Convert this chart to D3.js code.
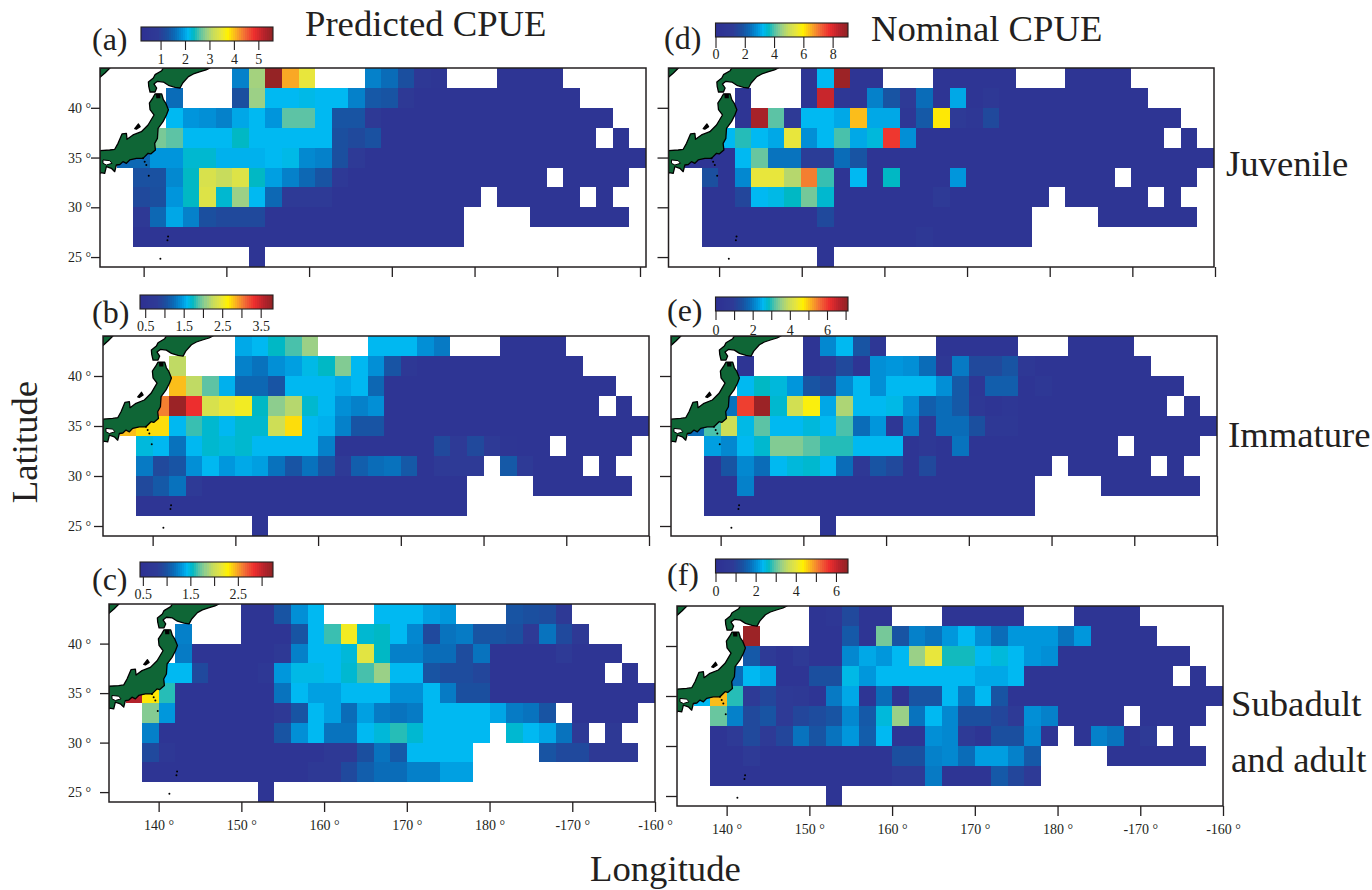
<!DOCTYPE html>
<html>
<head>
<meta charset="utf-8">
<script src="https://cdn.jsdelivr.net/npm/d3@7"></script>
<style>
  body { margin: 0; background: #fff; }
  text { font-family: "Liberation Serif", serif; fill: #231f20; }
</style>
</head>
<body>
<div id="chart"></div>
<script>
const _ = null;

// cell values, 33 columns of 2 deg from 134E, 10 rows of 2 deg from 44N down
const predictedJuvenile = [
  [_,_,_,_,_,_,_,_, 1.71,2.9,5.5,4.09,3.44, _,_,_, 1.71,1.55,1.23,.7,.55, _,_,_, .47,.47,.47,.47, _,_,_,_,_],
  [_,_,_,_, 1.55, _,_,_, 1.23,2.85,2.09,2.09,2.14,2.09,2.09,1.71,1.33,1.28,.74,.47,.47,.47,.47,.47,.47,.47,.47,.47,.47, _,_,_,_],
  [_,_,_,_, 2.09,1.87,1.82,1.71,1.98,2.09,1.87,2.58,2.58,2.09,1.28,1.28,.74,.47,.47,.47,.47,.47,.47,.47,.47,.47,.47,.47,.47,.47,.47, _,_],
  [_,_,_, 2.7,2.58,2.09,2.09,2.09,2.31,2.09,2.09,2.09,2.09,2.09,1.23,1.12,1.25,.47,.47,.47,.47,.47,.47,.47,.47,.47,.47,.47,.47,.47, _, .47, _],
  [_, 1.5,1.5,1.87,1.87,2.25,2.25,2.04,2.04,2.04,2.09,2.14,1.77,1.71,1.23,.85,.47,.47,.47,.47,.47,.47,.47,.47,.47,.47,.47,.47,.47,.47,.47,.47,.47],
  [_,_, 1.25,1.25,1.77,2.31,3.28,3.12,3.33,2.31,1.93,1.71,1.5,1.28,.8,.47,.47,.47,.47,.47,.47,.47,.47,.47,.47,.47,.47, _, .47,.47,.47,.47, _],
  [_,_, 1.12,1.23,1.87,2.31,3.33,2.25,2.85,2.09,1.5,.85,.85,.85,.47,.47,.47,.47,.47,.47,.47,.47,.47, _, .47,.47,.47,.47,.47, _, .47, _,_],
  [_,_, .74,1.5,1.98,1.71,1.23,1.12,1.12,1.12,.47,.47,.47,.47,.47,.47,.47,.47,.47,.47,.47,.47, _,_,_,_, .47,.47,.47,.47,.47,.47, _],
  [_,_, .47,.47,.47,.47,.47,.47,.47,.47,.47,.47,.47,.47,.47,.47,.47,.47,.47,.47,.47,.47, _,_,_,_,_,_,_,_,_,_,_],
  [_,_,_,_,_,_,_,_,_, .47, _,_,_,_,_,_,_,_,_,_,_,_,_,_,_,_,_,_,_,_,_,_,_]
];

const predictedImmature = [
  [_,_,_,_,_,_,_,_, 1.51,1.57,1.71,1.85,2.06, _,_,_, 1.57,1.57,1.57,1.4,1.3, _,_,_, .54,.54,.54,.54, _,_,_,_,_],
  [_,_,_,_, 2.2, _,_,_, 1.33,1.26,1.4,1.47,1.61,1.71,1.99,1.57,1.4,1.06,.71,.54,.54,.54,.54,.54,.54,.54,.54,.54,.54, _,_,_,_],
  [_,_,_,_, 2.78,2.2,1.89,1.54,1.19,1.19,1.06,1.57,1.57,1.57,1.51,1.57,1.19,.54,.54,.54,.54,.54,.54,.54,.54,.54,.54,.54,.54,.54,.54, _,_],
  [_,_,_, 2.99,3.72,3.3,2.33,2.44,2.51,1.71,2.02,2.16,1.68,1.57,1.4,1.33,1.4,.54,.54,.54,.54,.54,.54,.54,.54,.54,.54,.54,.54,.54, _, .54, _],
  [_, 2.78,2.68,2.68,1.57,1.82,1.68,1.57,1.68,1.68,2.27,2.68,1.57,1.54,1.33,1.06,1.06,.54,.54,.54,.54,.54,.54,.54,.54,.54,.54,.54,.54,.54,.54,.54,.54],
  [_,_, 1.64,1.57,1.26,1.57,1.68,1.64,1.68,1.57,1.57,1.57,1.57,1.33,.54,.54,.54,.54,.54,.54,.95,.78,.95,.78,.6,.54,.54, _, .54,.54,.54,.54, _],
  [_,_, 1.3,.95,1.06,1.4,1.57,1.44,1.51,1.47,1.26,1.06,1.26,1.06,.78,1.13,1.23,1.26,1.09,.54,.78,.78,.78, _, 1.09,.78,.54,.54,.54, _, .54, _,_],
  [_,_, .95,1.09,1.26,.78,.54,.54,.54,.54,.54,.54,.54,.54,.54,.54,.54,.54,.54,.54,.54,.54, _,_,_,_, .54,.54,.54,.54,.54,.54, _],
  [_,_, .54,.54,.54,.54,.54,.54,.54,.54,.54,.54,.54,.54,.54,.54,.54,.54,.54,.54,.54,.54, _,_,_,_,_,_,_,_,_,_,_],
  [_,_,_,_,_,_,_,_,_, .54, _,_,_,_,_,_,_,_,_,_,_,_,_,_,_,_,_,_,_,_,_,_,_]
];

const predictedAdult = [
  [_,_,_,_,_,_,_,_, .58,.58,1.0,1.28,1.42, _,_,_, 1.42,1.42,1.42,1.34,1.31, _,_,_, 1.0,.97,.94,.72, _,_,_,_,_],
  [_,_,_,_, 1.22, _,_,_, .58,.58,.58,1.0,1.42,1.62,2.18,1.5,1.53,1.42,1.25,.92,1.17,1.2,1.0,1.0,.97,.78,1.17,.92,.72, _,_,_,_],
  [_,_,_,_, 1.2,.58,.58,.58,.58,.58,.72,1.22,1.42,1.42,1.48,2.09,1.53,1.22,1.22,1.14,1.14,.94,1.17,.58,.58,.58,.58,.78,.58,.58,.58, _,_],
  [_,_,_, 1.42,1.42,.92,.58,.58,.58,.69,1.31,1.45,1.45,1.42,1.5,1.64,1.81,1.42,1.42,1.0,.94,.94,.89,.58,.58,.58,.58,.58,.58,.58, _, .58, _],
  [_, 3.04,2.29,1.59,.58,.58,.58,.58,.58,.58,1.17,1.42,1.34,1.34,1.42,1.42,1.42,1.28,1.28,1.42,1.2,.97,.97,.58,.58,.58,.58,.58,.58,.58,.58,.58,.58],
  [_,_, 1.76,1.31,.58,.58,.58,.58,.58,.58,.72,1.0,1.42,1.34,1.14,1.34,1.2,1.17,1.2,1.42,1.42,1.42,1.42,1.36,1.2,1.17,1.0, _, .58,.58,.58,.58, _],
  [_,_, 1.22,.58,.58,.58,.58,.58,.58,.58,1.0,1.28,1.42,1.17,1.17,1.42,1.48,1.59,1.5,1.42,1.42,1.42,1.42, _, 1.5,1.42,1.36,1.17,.78, _, .72, _,_],
  [_,_, .92,.69,.58,.58,.58,.58,.58,.58,.58,.58,.58,.72,.72,.97,1.17,1.03,1.42,1.42,1.42,1.42, _,_,_,_, 1.0,.92,.92,.72,.72,.72, _],
  [_,_, .58,.58,.58,.58,.58,.58,.58,.58,.58,.58,.72,.72,.92,1.06,1.14,1.14,1.22,1.22,1.34,1.34, _,_,_,_,_,_,_,_,_,_,_],
  [_,_,_,_,_,_,_,_,_, .58, _,_,_,_,_,_,_,_,_,_,_,_,_,_,_,_,_,_,_,_,_,_,_]
];

const nominalJuvenile = [
  [_,_,_,_,_,_,_,_, .45,3.17,8.78,.45,.45, _,_,_, .45,.45,.45,.45,.45, _,_,_, .45,.45,.45,.45, _,_,_,_,_],
  [_,_,_,_, .45, _,_,_, .45,8.15,.72,.45,2.53,1.81,1.09,2.26,.45,2.99,.45,.9,.45,.45,.45,.45,.45,.45,.45,.45,.45, _,_,_,_],
  [_,_,_,_, .45,8.6,3.98,1.09,3.17,3.17,2.99,6.34,2.99,2.99,.72,1.9,5.97,1.09,.72,1.54,.45,.45,.45,.45,.45,.45,.45,.45,.45,.45,.45, _,_],
  [_,_,_, 3.17,3.71,3.17,2.99,5.43,2.72,3.17,3.89,2.99,3.35,7.6,2.72,.45,.45,.45,.45,.45,.45,.45,.45,.45,.45,.45,.45,.45,.45,.45, _, .45, _],
  [_, .45,.45,.45,3.17,4.07,2.35,2.35,1.18,1.18,2.26,1.81,.45,.45,.45,.45,.45,.45,.45,.45,.45,.45,.45,.45,.45,.45,.45,.45,.45,.45,.45,.45,.45],
  [_,_, 1.72,.45,2.62,5.43,5.43,4.71,6.88,3.8,.45,3.17,.45,3.53,.45,.45,.45,2.81,.45,.45,.45,.45,.45,.45,.45,.45,.45, _, .45,.45,.45,.45, _],
  [_,_, .45,.45,1.45,3.17,3.26,3.53,4.16,3.44,.45,.45,.45,.45,.45,.45,1.09,.45,.45,.45,.45,.45,.45, _, .45,.45,.45,.45,.45, _, .45, _,_],
  [_,_, .45,.45,.45,.45,.45,.45,.45,1.54,.45,.45,.45,.45,.45,.45,.45,.45,.45,.45,.45,.45, _,_,_,_, .45,.45,.45,.45,.45,.45, _],
  [_,_, .45,.45,.45,.45,.45,.45,.45,.45,.45,.45,.45,.45,.45,.9,.45,.45,.45,.45,.45,.45, _,_,_,_,_,_,_,_,_,_,_],
  [_,_,_,_,_,_,_,_,_, .45, _,_,_,_,_,_,_,_,_,_,_,_,_,_,_,_,_,_,_,_,_,_,_]
];

const nominalImmature = [
  [_,_,_,_,_,_,_,_, .36,2.07,2.5,1.43,.57, _,_,_, .36,.36,.36,.36,.36, _,_,_, .36,.36,.36,.36, _,_,_,_,_],
  [_,_,_,_, .36, _,_,_, .36,.71,1.21,.36,2.14,2.21,2.14,1.78,.71,1.93,1.21,1.21,1.43,.71,.36,.36,.36,.36,.36,.36,.36, _,_,_,_],
  [_,_,_,_, 2.5,2.78,2.64,2.21,1.43,1.21,2.07,2.5,2.14,2.5,2.5,2.5,2.14,1.5,.57,1.57,1.57,.36,.71,.36,.36,.36,.36,.36,.36,.36,.36, _,_],
  [_,_,_, 1.85,5.92,6.92,2.71,3.99,4.56,2.35,3.64,2.5,2.5,2.57,2.14,1.57,1.78,1.5,.71,.36,.57,.36,.36,.36,.36,.36,.36,.36,.36,.36, _, .36, _],
  [_, 1.78,3.07,3.92,2.57,3.14,2.5,2.5,2.64,2.5,3.07,1.78,2.21,.57,1.93,.64,1.78,1.78,1.35,.71,.71,.36,.36,.36,.36,.36,.36,.36,.36,.36,.36,.36,.36],
  [_,_, 2.28,2.07,2.5,2.71,3.35,3.35,3.14,2.92,2.92,2.5,2.5,2.5,.36,.71,.36,1.85,.36,.36,.36,.36,.36,.36,.36,.36,.36, _, .36,.36,.36,.36, _],
  [_,_, .36,1.43,2.07,1.78,2.5,2.64,2.71,2.5,1.78,.71,1.43,1.21,.36,1.21,.36,.36,.36,.36,.36,.36,.36, _, .36,.36,.36,.36,.36, _, .36, _,_],
  [_,_, .36,.36,2.0,.36,.36,.36,.36,.36,.36,.36,.36,.36,.36,.36,.36,.36,.36,.36,.36,.36, _,_,_,_, .36,.36,.36,.36,.36,.36, _],
  [_,_, .36,.36,.36,.36,.36,.36,.36,.36,.36,.36,.36,.36,.36,.36,.36,.36,.36,.36,.36,.36, _,_,_,_,_,_,_,_,_,_,_],
  [_,_,_,_,_,_,_,_,_, .36, _,_,_,_,_,_,_,_,_,_,_,_,_,_,_,_,_,_,_,_,_,_,_]
];

const nominalAdult = [
  [_,_,_,_,_,_,_,_, .33,.53,1.12,.33,.33, _,_,_, .33,.33,.33,.33,.33, _,_,_, .33,.33,.33,.33, _,_,_,_,_],
  [_,_,_,_, 6.4, _,_,_, .33,.33,1.39,.33,3.04,1.32,1.85,1.72,2.05,2.31,1.98,1.65,2.05,2.05,2.05,1.72,2.05,.33,.33,.33,.33, _,_,_,_],
  [_,_,_,_, 1.39,.79,.33,.79,.33,.33,1.91,2.18,2.05,2.31,3.23,3.96,2.64,2.64,2.31,2.44,2.31,2.05,1.98,.33,.33,.33,.33,.33,.33,.33,.33, _,_],
  [_,_,_, 1.65,2.31,2.18,.33,.33,1.25,1.25,2.38,2.05,2.31,2.31,2.31,2.31,2.31,2.31,2.18,2.18,2.31,.33,.33,.33,.33,.33,.33,.33,.33,.33, _, .33, _],
  [_, 2.31,4.62,2.71,.79,1.06,.79,.66,.33,1.78,2.18,.33,1.65,.33,1.32,1.32,2.31,1.78,2.31,1.32,.33,.33,.33,.33,.33,.33,.33,.33,.33,.33,.33,.33,.33],
  [_,_, 2.97,1.85,1.12,1.32,.79,1.06,1.19,1.32,1.91,1.39,2.44,3.23,1.72,2.31,1.91,1.25,1.25,1.06,.79,1.98,1.85,.33,.33,.33,.33, _, .33,.33,.33,.33, _],
  [_,_, .33,.79,1.12,.79,1.06,1.72,1.32,1.72,2.05,1.45,2.31,.33,.33,1.98,1.91,.79,.33,1.25,1.25,1.91,.33, _, .33,1.85,1.72,.33,.79, _, .33, _,_],
  [_,_, .33,.33,.79,.33,.33,.33,.33,.33,.33,.33,.33,1.25,1.25,1.85,1.91,1.65,2.11,2.11,1.85,1.39, _,_,_,_, .33,.33,.33,.33,.33,.33, _],
  [_,_, .33,.33,.33,.33,.33,.33,.33,.33,.33,.33,.33,.79,.79,1.78,.33,.33,.33,1.39,1.06,.79, _,_,_,_,_,_,_,_,_,_,_],
  [_,_,_,_,_,_,_,_,_, .33, _,_,_,_,_,_,_,_,_,_,_,_,_,_,_,_,_,_,_,_,_,_,_]
];

// colour ramp shared by all panels, position along the bar -> colour
const rampStops = [0, .12, .19, .25, .31, .35, .39, .44, .49, .54, .6, .65, .72, .78, .85, .93, 1];
const rampColors = ["#2e3192", "#2e3a96", "#1b4f9f", "#0a6cb8", "#0096dc", "#00b9f2", "#00b8c4", "#5cc3a5", "#9bd087",
  "#c8dc5c", "#e8e63c", "#fff200", "#f9a825", "#f26a36", "#ed2e2e", "#b2222b", "#8b2323"];

const lonTicks = [140, 150, 160, 170, 180, 190, 200];
const lonLabels = ["140 °", "150 °", "160 °", "170 °", "180 °", "-170 °", "-160 °"];
const latTicks = [25, 30, 35, 40];
const latLabels = ["25 °", "30 °", "35 °", "40 °"];

// coastlines, lon/lat
const honshu = [[134,35.69],[135.17,35.76],[135.78,35.83],[136.18,36.43],[136.66,37.37],[137.19,37.43],[137.27,36.83],[137.99,37.27],
  [139,37.6],[139.81,38.27],[140.53,39.28],[140.05,39.81],[139.97,40.48],[140.37,40.98],[140.65,41.39],[141.46,41.39],[141.66,40.82],
  [141.94,40.48],[142.27,39.81],[142.03,39.28],[141.62,38.61],[141.02,37.94],[140.94,36.93],[140.61,36.43],[140.7,35.76],[140.13,35.36],
  [139.81,35.43],[139.2,34.92],[138.4,34.92],[137.59,34.76],[137.19,34.42],[136.78,34.59],[136.4,34.3],[135.98,34.25],[135.78,33.58],
  [135.37,33.92],[134.77,34.09],[134.57,33.41],[134.08,33.48],[134,33.4]];
const hokkaido = [[141.66,44],[147.3,44],[146.82,43.8],[146.02,43.6],[145.29,43.4],[144.69,43.13],[144,42.49],[143.68,41.99],[143.07,42.06],
  [142.27,42.26],[141.66,42.59],[140.94,42.66],[140.53,42.39],[140.85,41.99],[140.65,41.59],[140.05,41.59],[139.89,42.16],[139.85,42.59],
  [140.45,42.99],[140.65,43.33],[141.46,43.73]];
const mainland = [[134,44],[135.2,44],[134.6,43.5],[134,43.06]];
const sado = [[138.2,37.9],[138.65,38.37],[138.85,38.1],[138.4,37.85]];
const inlandSea = [[134.36,34.76],[135.17,34.69],[135.45,34.42],[134.77,34.25],[134.36,34.42]];
const mutsuBay = [[140.75,41.4],[141.3,41.4],[141.3,40.95],[140.8,40.95]];
const islands = [[139.2,34.92],[139.4,34.59],[139.6,34.25],[139.89,33.18],[142.23,27.07],[142.15,26.7],[141.3,24.83]];

const panels = [
  {name: "(a)", cells: predictedJuvenile, min: .2, max: 5.6, barTicks: [1,2,3,4,5], barLabels: [1,2,3,4,5], fmt: "d",
    x0: 100, x1: 646, y0: 68, y1: 267, tickShift: -6, showLat: true, showLon: false, tickLen: 9,
    bar: [141,273,27,41,9,59], nameAt: [92,50]},
  {name: "(b)", cells: predictedImmature, min: .365, max: 3.82, barTicks: [.5,1,1.5,2,2.5,3,3.5], barLabels: [.5,1.5,2.5,3.5], fmt: ".1f",
    x0: 103, x1: 649, y0: 336, y1: 536, tickShift: 0, showLat: true, showLon: false, tickLen: 9,
    bar: [140,273,295,309,9,326], nameAt: [92,323]},
  {name: "(c)", cells: predictedAdult, min: .44, max: 3.24, barTicks: [.5,1,1.5,2,2.5,3], barLabels: [.5,1.5,2.5], fmt: ".1f",
    x0: 109, x1: 655, y0: 604, y1: 802, tickShift: 0, showLat: true, showLon: true, tickLen: 9,
    bar: [140,273,562,577,9,594], nameAt: [92,590]},
  {name: "(d)", cells: nominalJuvenile, min: 0, max: 9.05, barTicks: [0,2,4,6,8], barLabels: [0,2,4,6,8], fmt: "d",
    x0: 668.5, x1: 1214, y0: 68, y1: 267, tickShift: 1, showLat: false, showLon: false, tickLen: 11,
    bar: [715.5,848,23,37,11,54], nameAt: [664,49]},
  {name: "(e)", cells: nominalImmature, min: 0, max: 7.13, barTicks: [0,1,2,3,4,5,6,7], barLabels: [0,2,4,6], fmt: "d",
    x0: 671, x1: 1217, y0: 336, y1: 536, tickShift: 0, showLat: false, showLon: false, tickLen: 11,
    bar: [715.5,848,297,311,9,330], nameAt: [667,321]},
  {name: "(f)", cells: nominalAdult, min: 0, max: 6.6, barTicks: [0,1,2,3,4,5,6], barLabels: [0,2,4,6], fmt: "d",
    x0: 677, x1: 1223, y0: 606, y1: 806, tickShift: 0, showLat: false, showLon: true, tickLen: 11,
    bar: [715.5,848,559,573,9,591], nameAt: [667,585]}
];

const svg = d3.select("#chart").append("svg")
  .attr("width", 1372)
  .attr("height", 890);

const ramp = d3.scaleLinear().domain(rampStops).range(rampColors);
const ink = "#231f20";

function drawPanel(p, idx) {
  let x = d3.scaleLinear().domain([134, 200]).range([p.x0, p.x1]);
  let y = d3.scaleLinear().domain([24, 44]).range([p.y1, p.y0]);
  let position = d3.scaleLinear().domain([p.min, p.max]).range([0, 1]);

  let flat = [];
  p.cells.forEach(function(row, r) {
    row.forEach(function(v, c) {
      if (v !== null) flat.push({lon: 134 + 2 * c, lat: 44 - 2 * r, v: v});
    });
  });

  let g = svg.append("g");
  let clipId = "frame" + idx;
  g.append("clipPath").attr("id", clipId).append("rect")
    .attr("x", p.x0).attr("y", p.y0)
    .attr("width", p.x1 - p.x0).attr("height", p.y1 - p.y0);

  g.selectAll("rect.cell").data(flat).enter().append("rect")
    .attr("class", "cell")
    .attr("x", function(d) { return x(d.lon); })
    .attr("y", function(d) { return y(d.lat); })
    .attr("width", function(d) { return x(d.lon + 2) - x(d.lon); })
    .attr("height", function(d) { return y(d.lat - 2) - y(d.lat); })
    .attr("shape-rendering", "crispEdges")
    .attr("fill", function(d) { return ramp(position(d.v)); });

  // land on top of the cells
  let coast = d3.line().x(function(d) { return x(d[0]); }).y(function(d) { return y(d[1]); });
  let land = g.append("g").attr("clip-path", `url(#${clipId})`);
  [mainland, hokkaido, honshu, sado].forEach(function(shape) {
    land.append("path")
      .attr("d", coast(shape) + "Z")
      .attr("fill", shape === sado ? "#000" : "#0f6636")
      .attr("stroke", "#000")
      .attr("stroke-width", 1.3)
      .attr("stroke-linejoin", "round");
  });
  land.append("path")
    .attr("d", coast(inlandSea) + "Z")
    .attr("fill", "#fff")
    .attr("stroke", "#000")
    .attr("stroke-width", 1);
  land.append("path")
    .attr("d", coast(mutsuBay) + "Z")
    .attr("fill", "#000");
  land.selectAll("circle").data(islands).enter().append("circle")
    .attr("cx", function(d) { return x(d[0]); })
    .attr("cy", function(d) { return y(d[1]); })
    .attr("r", 1)
    .attr("fill", "#000");

  g.append("rect")
    .attr("x", p.x0).attr("y", p.y0)
    .attr("width", p.x1 - p.x0).attr("height", p.y1 - p.y0)
    .attr("fill", "none")
    .attr("stroke", ink)
    .attr("stroke-width", 1.5);

  // axes, labels only on the outer panels
  let lonAxis = d3.axisBottom(x).tickValues(lonTicks).tickSize(10).tickPadding(8)
    .tickFormat(function(d, i) { return p.showLon ? lonLabels[i] : ""; });
  let lonG = g.append("g")
    .attr("transform", `translate(${p.tickShift}, ${p.y1})`)
    .call(lonAxis);

  let latAxis = d3.axisLeft(y).tickValues(latTicks).tickSize(p.tickLen).tickPadding(3)
    .tickFormat(function(d, i) { return p.showLat ? latLabels[i] : ""; });
  let latG = g.append("g")
    .attr("transform", `translate(${p.x0}, 0)`)
    .call(latAxis);

  [lonG, latG].forEach(function(a) {
    a.select(".domain").remove();
    a.selectAll("line").attr("stroke", ink).attr("stroke-width", 1.3);
    a.selectAll("text").style("font-size", "14px").attr("fill", ink);
  });
  if (p.showLat) {
    latG.selectAll("text").attr("x", 91 - p.x0);
  }

  // colour bar
  let barX = d3.scaleLinear().domain([p.min, p.max]).range([p.bar[0], p.bar[1]]);
  let steps = d3.range(0, 1, 1 / 66);
  g.selectAll("rect.step").data(steps).enter().append("rect")
    .attr("class", "step")
    .attr("x", function(t) { return p.bar[0] + t * (p.bar[1] - p.bar[0]); })
    .attr("y", p.bar[2])
    .attr("width", (p.bar[1] - p.bar[0]) / 66)
    .attr("height", p.bar[3] - p.bar[2])
    .attr("shape-rendering", "crispEdges")
    .attr("fill", function(t) { return ramp(t); });
  g.append("rect")
    .attr("x", p.bar[0]).attr("y", p.bar[2])
    .attr("width", p.bar[1] - p.bar[0]).attr("height", p.bar[3] - p.bar[2])
    .attr("fill", "none")
    .attr("stroke", ink)
    .attr("stroke-width", 1.1);

  let fmt = d3.format(p.fmt);
  let barAxis = d3.axisBottom(barX).tickValues(p.barTicks).tickSize(p.bar[4]).tickPadding(2)
    .tickFormat(function(d) { return p.barLabels.includes(d) ? fmt(d) : ""; });
  let barG = g.append("g")
    .attr("transform", `translate(0, ${p.bar[3]})`)
    .call(barAxis);
  barG.select(".domain").remove();
  barG.selectAll("line").attr("stroke", ink).attr("stroke-width", 1.1);
  barG.selectAll("text")
    .style("font-size", "14px")
    .attr("fill", ink)
    .attr("dy", null)
    .attr("y", p.bar[5] + 5 - p.bar[3]);

  g.append("text")
    .attr("x", p.nameAt[0]).attr("y", p.nameAt[1])
    .style("font-size", "32px")
    .text(p.name);
}

panels.forEach(drawPanel);

// titles and row names
function bigText(str, px, py, size) {
  return svg.append("text")
    .attr("x", px).attr("y", py)
    .style("font-size", size + "px")
    .text(str);
}
bigText("Predicted CPUE", 305, 36, 36.7);
bigText("Nominal CPUE", 871, 41, 36.7);
bigText("Juvenile", 1226, 176, 36.7);
bigText("Immature", 1228, 447, 36.7);
bigText("Subadult", 1231, 716, 36.7);
bigText("and adult", 1231, 772, 36.7);
bigText("Longitude", 590, 881, 36.7);

svg.append("text")
  .attr("transform", "translate(37, 442)rotate(-90)")
  .style("text-anchor", "middle")
  .style("font-size", "36.7px")
  .text("Latitude");
</script>
</body>
</html>
